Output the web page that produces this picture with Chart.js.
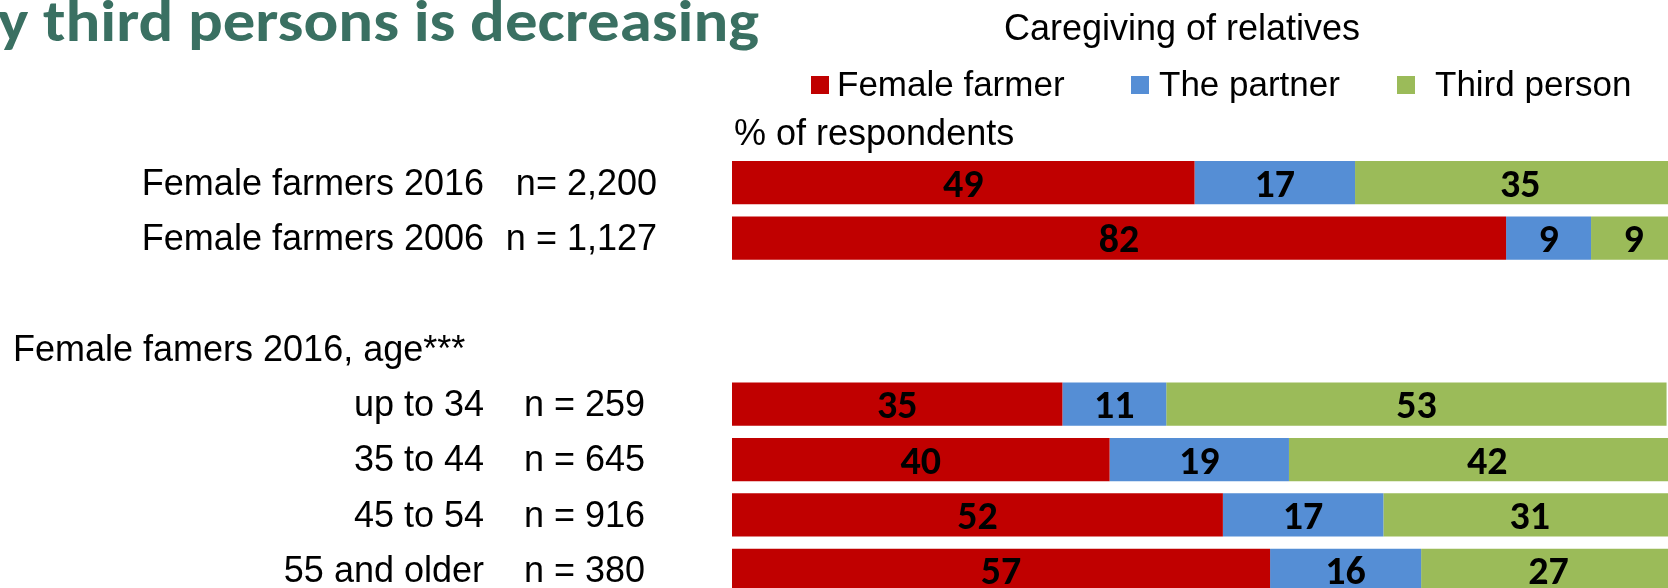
<!DOCTYPE html>
<html>
<head>
<meta charset="utf-8">
<script src="https://cdn.jsdelivr.net/npm/chart.js@4.4.1/dist/chart.umd.min.js"></script>
<style>
    html, body { margin: 0; padding: 0; background: #fff; overflow: hidden; }
    #wrap { width: 1668px; height: 588px; overflow: hidden; position: relative; }
    #myChart { position: absolute; left: 0; top: 0; }
</style>
</head>
<body>
<div id="wrap"><canvas id="myChart" width="1676" height="598"></canvas></div>
<script>
// data
var categories = ["Female farmers 2016", "Female farmers 2006", "", "Female famers 2016, age***", "up to 34", "35 to 44", "45 to 54", "55 and older"];
var sampleSizes = ["n= 2,200", "n = 1,127", "", "", "n = 259", "n = 645", "n = 916", "n = 380"];
var femaleFarmer = [49, 82, null, null, 35, 40, 52, 57];
var thePartner = [17, 9, null, null, 11, 19, 17, 16];
var thirdPerson = [35, 9, null, null, 53, 42, 31, 27];
var seriesNames = ["Female farmer", "The partner", "Third person"];
var seriesColors = ["#C00000", "#558ED5", "#9BBB59"];

var headline = "by third persons is decreasing";
var chartTitle = "Caregiving of relatives";
var axisNote = "% of respondents";

var ARIAL = "'Liberation Sans', Arial, sans-serif";

var textPlugin = {
    id: "textPlugin",
    afterDatasetsDraw: function (chart) {
        var ctx = chart.ctx;
        // value labels in the middle of each segment
        ctx.save();
        ctx.fillStyle = "#000";
        ctx.font = "bold 40px Carlito, Lato, sans-serif";
        ctx.textAlign = "center";
        ctx.textBaseline = "middle";
        chart.data.datasets.forEach(function (ds, di) {
            var meta = chart.getDatasetMeta(di);
            meta.data.forEach(function (bar, i) {
                var v = ds.data[i];
                if (v === null || v === undefined) return;
                ctx.fillText(String(v), (bar.x + bar.base) / 2, bar.y + 4);
            });
        });
        ctx.restore();
    },
    afterDraw: function (chart) {
        var ctx = chart.ctx;
        var yScale = chart.scales.y;
        ctx.save();

        // headline, cut off at the left edge
        ctx.fillStyle = "#3A7062";
        ctx.font = "bold 58px Carlito, Lato, sans-serif";
        ctx.textBaseline = "alphabetic";
        var tail = headline.slice(3);
        var sx = 716 / ctx.measureText(tail).width;
        ctx.save();
        ctx.translate(759, 41);
        ctx.scale(sx, 1);
        ctx.textAlign = "right";
        ctx.fillText(headline, 0, 0);
        ctx.restore();

        // chart title
        ctx.fillStyle = "#000";
        ctx.font = "36px " + ARIAL;
        ctx.textAlign = "center";
        ctx.textBaseline = "middle";
        ctx.fillText(chartTitle, 1182, 30);

        // legend
        var boxX = [811, 1131, 1397];
        var textX = [837, 1159, 1435];
        ctx.font = "35px " + ARIAL;
        ctx.textAlign = "left";
        chart.data.datasets.forEach(function (ds, di) {
            ctx.fillStyle = ds.backgroundColor;
            ctx.fillRect(boxX[di], 76, 18, 18);
            ctx.fillStyle = "#000";
            ctx.fillText(ds.label, textX[di], 86);
        });

        // unit note
        ctx.font = "36px " + ARIAL;
        ctx.fillText(axisNote, 734, 135);

        // category labels and sample sizes
        chart.data.labels.forEach(function (lab, i) {
            var y = yScale.getPixelForValue(i) + 2;
            if (!lab) return;
            if (sampleSizes[i]) {
                ctx.textAlign = "right";
                ctx.fillText(lab, 484, y);
                ctx.fillText(sampleSizes[i], i < 2 ? 657 : 645, y);
            } else {
                ctx.textAlign = "left";
                ctx.fillText(lab, 13, y);
            }
        });
        ctx.restore();
    }
};

var ctx = document.getElementById("myChart").getContext("2d");
var myBarChart = new Chart(ctx, {
    type: "bar",
    data: {
        labels: categories,
        datasets: [
            { label: seriesNames[0], data: femaleFarmer, backgroundColor: seriesColors[0] },
            { label: seriesNames[1], data: thePartner, backgroundColor: seriesColors[1] },
            { label: seriesNames[2], data: thirdPerson, backgroundColor: seriesColors[2] },
        ],
    },
    options: {
        indexAxis: "y",
        responsive: false,
        animation: false,
        categoryPercentage: 1,
        barPercentage: 0.78,
        layout: { padding: { left: 732, top: 155, right: 0, bottom: 0 } },
        scales: {
            x: { stacked: true, min: 0, max: 100, display: false },
            y: { stacked: true, display: false },
        },
        plugins: {
            legend: { display: false },
            tooltip: { enabled: false },
        },
    },
    plugins: [textPlugin],
});
</script>
</body>
</html>
